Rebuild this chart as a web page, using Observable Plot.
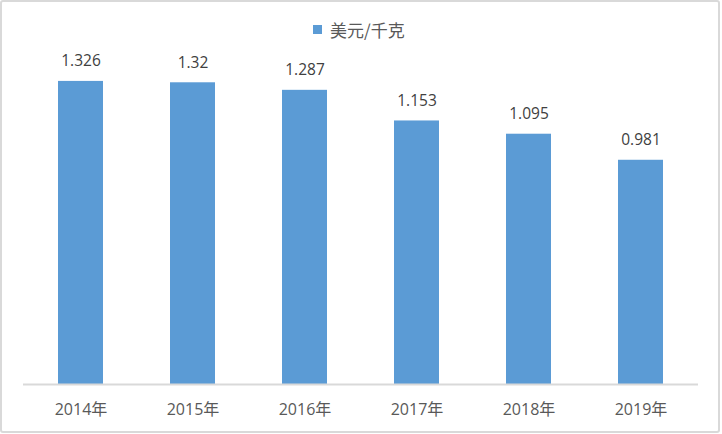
<!DOCTYPE html>
<html><head><meta charset="utf-8">
<script src="https://cdn.jsdelivr.net/npm/d3@7"></script>
<script src="https://cdn.jsdelivr.net/npm/@observablehq/plot@0.6"></script>
<style>
body{margin:0;background:#fff;}
#frame{position:relative;width:720px;height:433px;border:2px solid #d9d9d9;border-radius:3px;box-sizing:border-box;overflow:hidden;font-family:'Open Sans','Noto Sans CJK SC',sans-serif;background:#fff;}
#legend{position:absolute;left:311px;top:17px;height:20px;display:flex;align-items:center;gap:8px;font-family:'Noto Sans CJK SC',sans-serif;font-size:17px;color:#595959;}
#legend .sw{width:9px;height:9px;background:#5B9BD5;}
#chart{position:absolute;left:0;top:0;}
</style>
</head><body>
<div id="frame">
  <div id="legend"><span class="sw"></span><span>美元/千克</span></div>
  <div id="chart"></div>
</div>
<script>
const years = ["2014年","2015年","2016年","2017年","2018年","2019年"];
const values = [1.326, 1.32, 1.287, 1.153, 1.095, 0.981];
const valueLabels = ["1.326","1.32","1.287","1.153","1.095","0.981"];
const seriesName = "美元/千克";

const data = years.map((y, i) => ({year: y, value: values[i], label: valueLabels[i]}));

const chart = Plot.plot({
  width: 716,
  height: 429,
  marginTop: 62,
  marginBottom: 47,
  marginLeft: 21,
  marginRight: 20,
  style: {fontFamily: "'Open Sans','Noto Sans CJK SC',sans-serif", background: "transparent"},
  x: {domain: years, paddingInner: 0.6, paddingOuter: 0.3},
  y: {domain: [0, 1.4], axis: null},
  marks: [
    Plot.barY(data, {x: "year", y: "value", fill: "#5B9BD5"}),
    Plot.ruleY([0], {stroke: "#d9d9d9", strokeWidth: 2}),
    Plot.text(data, {x: "year", y: "value", text: "label", dy: -20, fontSize: 15.5, fill: "#404040"}),
    Plot.axisX({tickSize: 0, tickPadding: 19, fontSize: 16, label: null, color: "#595959"})
  ]
});
document.getElementById("chart").appendChild(chart);
</script>
</body></html>
